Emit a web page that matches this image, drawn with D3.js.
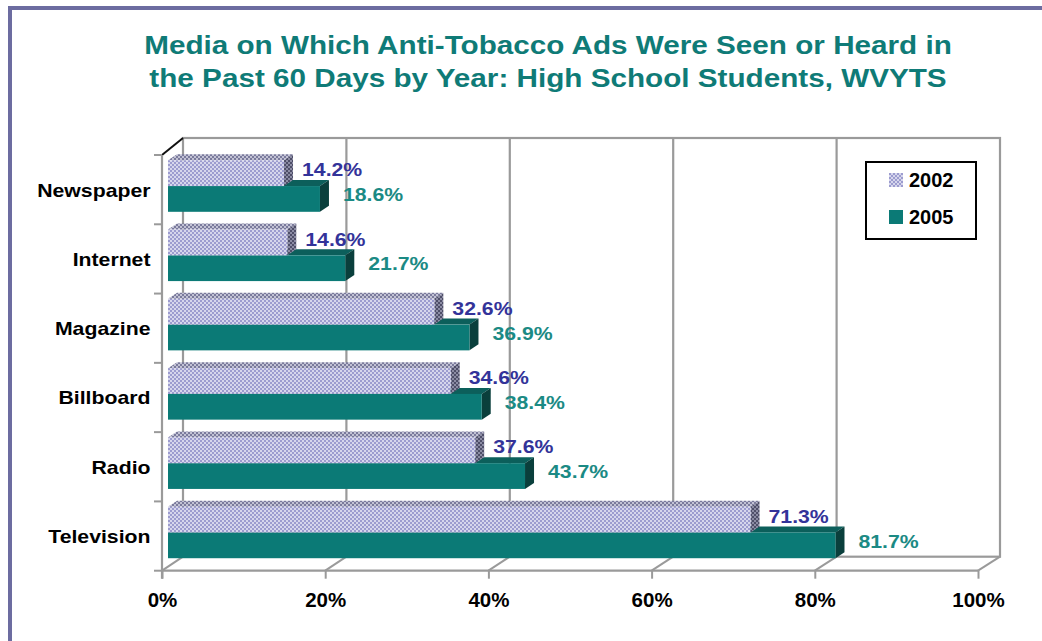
<!DOCTYPE html>
<html>
<head>
<meta charset="utf-8">
<script src="https://cdn.jsdelivr.net/npm/d3@7/dist/d3.min.js"></script>
<style>
  html, body { margin: 0; padding: 0; background: #ffffff; }
  svg { display: block; }
  text { font-family: "Liberation Sans", Arial, Helvetica, sans-serif; font-weight: bold; }
</style>
</head>
<body>
<svg id="chart" width="1042" height="641"></svg>
<script>
// ---------- data ----------
const titleLines = [
  "Media on Which Anti-Tobacco Ads Were Seen or Heard in",
  "the Past 60 Days by Year: High School Students, WVYTS"
];
const categories = ["Newspaper", "Internet", "Magazine", "Billboard", "Radio", "Television"];
const years = ["2002", "2005"];
const values2002 = [14.2, 14.6, 32.6, 34.6, 37.6, 71.3];
const values2005 = [18.6, 21.7, 36.9, 38.4, 43.7, 81.7];
const tickValues = [0, 20, 40, 60, 80, 100];
const tickLabels = ["0%", "20%", "40%", "60%", "80%", "100%"];

// ---------- setup ----------
const svg = d3.select("#chart");
const W = 1042, H = 641;
svg.append("rect").attr("width", W).attr("height", H).attr("fill", "#ffffff");

// frame
svg.append("rect").attr("x", 10).attr("y", 8).attr("width", 1200).attr("height", 1000)
  .attr("fill", "none").attr("stroke", "#6c6ca0").attr("stroke-width", 4);

const SX = 1.13; // horizontal stretch of the original rendering

// title
const titleColor = "#0f7b77";
svg.selectAll("text.title").data(titleLines).join("text")
  .attr("class", "title")
  .attr("transform", (d, i) => `translate(548,${53.5 + i * 33.4}) scale(1.15,1)`)
  .attr("text-anchor", "middle")
  .attr("font-size", 25.8)
  .attr("fill", titleColor)
  .text(d => d);

// ---------- 3D geometry ----------
const DX = 21, DY = -14;          // floor depth offset (front -> back)
const BDX = 9, BDY = -6;          // bar depth
const xFront = d3.scaleLinear().domain([0, 100]).range([162, 978]);
const xBack = d3.scaleLinear().domain([0, 100]).range([162 + DX, 978 + DX + 1]);
const xBar = d3.scaleLinear().domain([0, 100]).range([168, 985]);
const yFloor = 570.7;
const yTopFront = 155;
const yBand = d3.scaleBand().domain(categories).range([yTopFront, yFloor]).padding(0);
const yInner = d3.scaleBand().domain(years).range([5.3, 56.8]).padding(0);

const gridColor = "#9a9a9a";
const g = svg.append("g");

// back wall
const backTop = yTopFront + DY - 3; // 138
const backBottom = yFloor + DY;    // 556.7
g.append("rect")
  .attr("x", xBack(0)).attr("y", backTop)
  .attr("width", xBack(100) - xBack(0)).attr("height", backBottom - backTop)
  .attr("fill", "#ffffff").attr("stroke", gridColor).attr("stroke-width", 2.2);

// back wall vertical gridlines
g.selectAll("line.vgrid").data(tickValues.slice(1, -1)).join("line")
  .attr("class", "vgrid")
  .attr("x1", d => xBack(d)).attr("x2", d => xBack(d))
  .attr("y1", backTop).attr("y2", backBottom)
  .attr("stroke", gridColor).attr("stroke-width", 2.2);

// floor diagonals
g.selectAll("line.fdiag").data(tickValues).join("line")
  .attr("class", "fdiag")
  .attr("x1", d => xFront(d)).attr("x2", d => xBack(d))
  .attr("y1", yFloor).attr("y2", backBottom)
  .attr("stroke", gridColor).attr("stroke-width", 2);

// left wall top diagonal
g.append("line")
  .attr("x1", xFront(0)).attr("y1", yTopFront)
  .attr("x2", xBack(0)).attr("y2", backTop)
  .attr("stroke", "#111111").attr("stroke-width", 2);

// left front vertical axis line
g.append("line")
  .attr("x1", xFront(0)).attr("x2", xFront(0))
  .attr("y1", yTopFront).attr("y2", yFloor + 8)
  .attr("stroke", gridColor).attr("stroke-width", 2.2);

// left axis ticks at band boundaries
const boundaries = categories.map(c => yBand(c)).concat([yFloor]);
g.selectAll("line.ltick").data(boundaries).join("line")
  .attr("class", "ltick")
  .attr("x1", xFront(0) - 8).attr("x2", xFront(0))
  .attr("y1", d => d).attr("y2", d => d)
  .attr("stroke", gridColor).attr("stroke-width", 2);

// bottom axis (front floor edge) via d3.axisBottom
const xAxis = d3.axisBottom(xFront)
  .tickValues(tickValues)
  .tickFormat((d, i) => tickLabels[i])
  .tickSize(8)
  .tickPadding(14);
const axG = svg.append("g").attr("transform", `translate(0,${yFloor})`).call(xAxis);
axG.select(".domain").attr("stroke", gridColor).attr("stroke-width", 2.2)
  .attr("d", `M${xFront(0)},0H${xFront(100)}`);
axG.selectAll(".tick line").attr("stroke", gridColor).attr("stroke-width", 2);
axG.selectAll(".tick text")
  .attr("font-size", 20.5).attr("fill", "#000000")
  .attr("font-family", "'Liberation Sans', Arial, sans-serif").attr("font-weight", "bold")
  .attr("dy", "0.71em");

// ---------- patterns ----------
const defs = svg.append("defs");
function checker(id, c1, c2) {
  const p = defs.append("pattern").attr("id", id).attr("patternUnits", "userSpaceOnUse")
    .attr("width", 4).attr("height", 4);
  p.append("rect").attr("width", 4).attr("height", 4).attr("fill", c2);
  p.append("rect").attr("width", 2).attr("height", 2).attr("fill", c1);
  p.append("rect").attr("x", 2).attr("y", 2).attr("width", 2).attr("height", 2).attr("fill", c1);
}
checker("p02front", "#9c9ccf", "#d6d6ec");
checker("p02top", "#7a7a9c", "#c2c2d4");
checker("p02side", "#4e4e68", "#8c8ca4");

const styles = {
  "2002": { front: "url(#p02front)", top: "url(#p02top)", side: "url(#p02side)", label: "#333399", dx: 18 },
  "2005": { front: "#0b7a76", top: "#0c5f5b", side: "#0a3f3c", label: "#1b8a84", dx: 23 }
};

// build bar records
const bars = [];
years.forEach(y => {
  const vals = y === "2002" ? values2002 : values2005;
  categories.forEach((c, i) => bars.push({ year: y, cat: c, value: vals[i] }));
});
// draw 2005 first so 2002 covers its top face
const order = ["2005", "2002"];
const barG = svg.append("g");
order.forEach(yr => {
  const data = bars.filter(b => b.year === yr);
  const st = styles[yr];
  const grp = barG.append("g");
  data.forEach(b => {
    const x0 = xBar(0), x1 = xBar(b.value);
    const y0 = yBand(b.cat) + yInner(yr);
    const y1 = y0 + yInner.bandwidth();
    grp.append("polygon")
      .attr("points", [[x0, y0], [x0 + BDX, y0 + BDY], [x1 + BDX, y0 + BDY], [x1, y0]].join(" "))
      .attr("fill", st.top);
    grp.append("polygon")
      .attr("points", [[x1, y0], [x1 + BDX, y0 + BDY], [x1 + BDX, y1 + BDY], [x1, y1]].join(" "))
      .attr("fill", st.side);
    grp.append("rect")
      .attr("x", x0).attr("y", y0).attr("width", x1 - x0).attr("height", y1 - y0)
      .attr("fill", st.front);
  });
});

// value labels
years.forEach(yr => {
  const st = styles[yr];
  const data = bars.filter(b => b.year === yr);
  svg.selectAll(`text.lab${yr}`).data(data).join("text")
    .attr("class", `lab${yr}`)
    .attr("transform", d => {
      const x = xBar(d.value) + st.dx;
      const y = yBand(d.cat) + (yr === "2002" ? 21.3 : 46.2);
      return `translate(${x},${y}) scale(${SX},1)`;
    })
    .attr("font-size", 18.8)
    .attr("fill", st.label)
    .text(d => d.value.toFixed(1) + "%");
});

// category labels
svg.selectAll("text.cat").data(categories).join("text")
  .attr("class", "cat")
  .attr("transform", d => `translate(150.5,${yBand(d) + yBand.bandwidth() / 2 + 6.9}) scale(${SX},1)`)
  .attr("text-anchor", "end")
  .attr("font-size", 18.8)
  .attr("fill", "#000000")
  .text(d => d);

// legend
const leg = svg.append("g");
leg.append("rect").attr("x", 866).attr("y", 162).attr("width", 110).attr("height", 77)
  .attr("fill", "#ffffff").attr("stroke", "#000000").attr("stroke-width", 2);
const legItems = leg.selectAll("g.li").data(years).join("g").attr("class", "li")
  .attr("transform", (d, i) => `translate(889,${173 + i * 37})`);
legItems.append("rect").attr("width", 14).attr("height", 14)
  .attr("fill", d => styles[d].front);
legItems.append("text").attr("x", 20).attr("y", 14.4)
  .attr("font-size", 20).attr("fill", "#000000").text(d => d);
</script>
</body>
</html>
